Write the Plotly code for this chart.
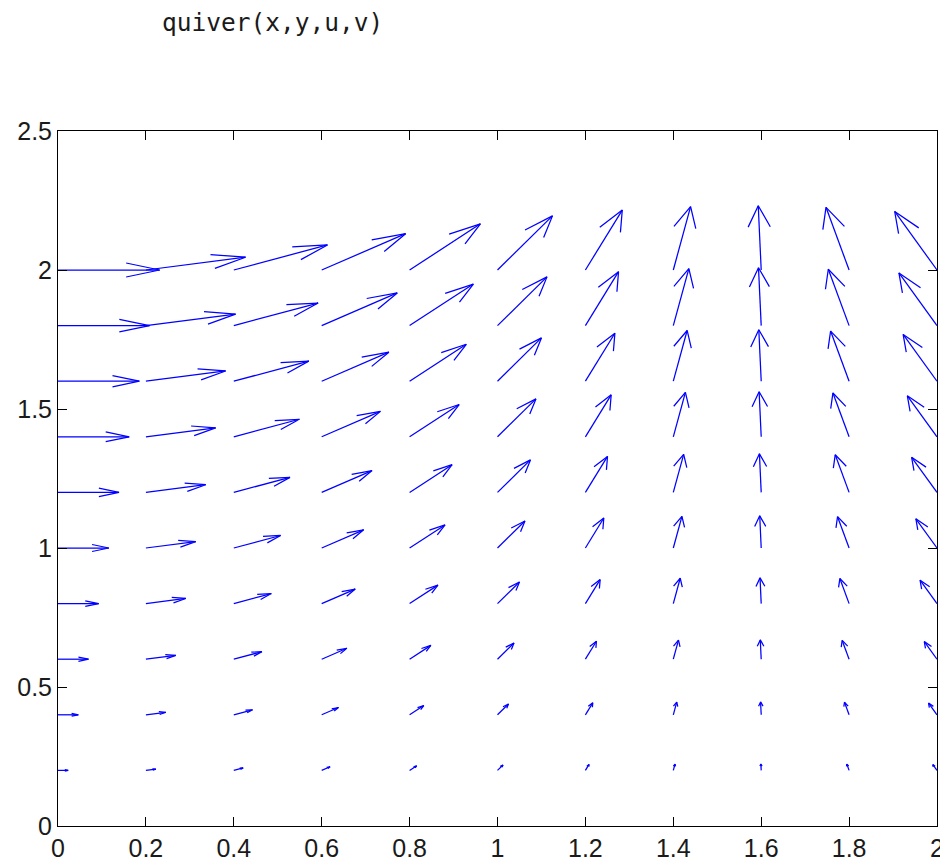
import plotly.graph_objects as go

# Grid positions
x_vals = [0.0, 0.2, 0.4, 0.6, 0.8, 1.0, 1.2, 1.4, 1.6, 1.8, 2.0]
y_vals = [0.2, 0.4, 0.6, 0.8, 1.0, 1.2, 1.4, 1.6, 1.8, 2.0]

# u components: one row per y value, one column per x value
u_rows = [
    [0.200, 0.196, 0.184, 0.165, 0.139, 0.108, 0.072, 0.034, -0.006, -0.045, -0.083],
    [0.400, 0.392, 0.368, 0.330, 0.279, 0.216, 0.145, 0.068, -0.012, -0.091, -0.166],
    [0.600, 0.588, 0.553, 0.495, 0.418, 0.324, 0.217, 0.102, -0.018, -0.136, -0.250],
    [0.800, 0.784, 0.737, 0.660, 0.557, 0.432, 0.290, 0.136, -0.023, -0.182, -0.333],
    [1.000, 0.980, 0.921, 0.825, 0.697, 0.540, 0.362, 0.170, -0.029, -0.227, -0.416],
    [1.200, 1.176, 1.105, 0.990, 0.836, 0.648, 0.435, 0.204, -0.035, -0.273, -0.499],
    [1.400, 1.372, 1.290, 1.155, 0.975, 0.756, 0.507, 0.238, -0.041, -0.318, -0.583],
    [1.600, 1.568, 1.474, 1.321, 1.115, 0.864, 0.580, 0.272, -0.047, -0.364, -0.666],
    [1.800, 1.764, 1.658, 1.486, 1.254, 0.973, 0.652, 0.306, -0.053, -0.409, -0.749],
    [2.000, 1.960, 1.842, 1.651, 1.393, 1.081, 0.725, 0.340, -0.058, -0.454, -0.832],
]

# v components: one row per y value, one column per x value
v_rows = [
    [0.000, 0.040, 0.078, 0.113, 0.143, 0.168, 0.186, 0.197, 0.200, 0.195, 0.182],
    [0.000, 0.079, 0.156, 0.226, 0.287, 0.337, 0.373, 0.394, 0.400, 0.390, 0.364],
    [0.000, 0.119, 0.234, 0.339, 0.430, 0.505, 0.559, 0.591, 0.600, 0.584, 0.546],
    [0.000, 0.159, 0.312, 0.452, 0.574, 0.673, 0.746, 0.788, 0.800, 0.779, 0.727],
    [0.000, 0.199, 0.389, 0.565, 0.717, 0.841, 0.932, 0.985, 1.000, 0.974, 0.909],
    [0.000, 0.238, 0.467, 0.678, 0.861, 1.010, 1.118, 1.183, 1.199, 1.169, 1.091],
    [0.000, 0.278, 0.545, 0.791, 1.004, 1.178, 1.305, 1.380, 1.399, 1.363, 1.273],
    [0.000, 0.318, 0.623, 0.903, 1.148, 1.346, 1.491, 1.577, 1.599, 1.558, 1.455],
    [0.000, 0.358, 0.701, 1.016, 1.291, 1.515, 1.678, 1.774, 1.799, 1.753, 1.637],
    [0.000, 0.397, 0.779, 1.129, 1.435, 1.683, 1.864, 1.971, 1.999, 1.948, 1.819],
]

x_ticks = [0, 0.2, 0.4, 0.6, 0.8, 1, 1.2, 1.4, 1.6, 1.8, 2]
x_tick_labels = ["0", "0.2", "0.4", "0.6", "0.8", "1", "1.2", "1.4", "1.6", "1.8", "2"]
y_ticks = [0, 0.5, 1, 1.5, 2, 2.5]
y_tick_labels = ["0", "0.5", "1", "1.5", "2", "2.5"]

title_text = "quiver(x,y,u,v)"

# Style / scaling parameters (MATLAB-style autoscale and arrowheads)
SCALE = 0.1157
ALPHA = 0.33
BETA = 0.33

sx, sy = [], []
hx, hy = [], []
for i, y0 in enumerate(y_vals):
    for j, x0 in enumerate(x_vals):
        u = u_rows[i][j] * SCALE
        v = v_rows[i][j] * SCALE
        sx += [x0, x0 + u, None]
        sy += [y0, y0 + v, None]
        tx, ty = x0 + u, y0 + v
        hx += [tx - ALPHA * (u + BETA * v), tx, tx - ALPHA * (u - BETA * v), None]
        hy += [ty - ALPHA * (v - BETA * u), ty, ty - ALPHA * (v + BETA * u), None]

fig = go.Figure()
fig.add_trace(go.Scatter(x=sx, y=sy, mode="lines",
                         line=dict(color="#0000ff", width=1.25),
                         hoverinfo="skip", showlegend=False))
fig.add_trace(go.Scatter(x=hx, y=hy, mode="lines",
                         line=dict(color="#0000ff", width=1.25),
                         hoverinfo="skip", showlegend=False))

axis_common = dict(
    showline=True, linecolor="black", linewidth=1, mirror="ticks",
    ticks="inside", ticklen=9, tickcolor="black", tickwidth=1,
    showgrid=False, zeroline=False, automargin=False,
    tickfont=dict(family="Liberation Sans, Arial, sans-serif", size=25, color="#1a1a1a"),
)

# The page body adds an 8px offset at top/left, so the figure is 8px smaller
fig.update_layout(
    width=940, height=853,
    margin=dict(l=50, r=11, t=123, b=35),
    paper_bgcolor="white", plot_bgcolor="white",
    xaxis=dict(range=[0, 2], tickvals=x_ticks, ticktext=x_tick_labels,
               ticklabelstandoff=0, **axis_common),
    yaxis=dict(range=[0, 2.5], tickvals=y_ticks, ticktext=y_tick_labels, **axis_common),
    annotations=[dict(
        text=title_text, xref="paper", yref="paper",
        x=(160 - 58) / 879, y=1 + (131 - 23) / 695,
        xanchor="left", yanchor="middle", showarrow=False,
        font=dict(family="DejaVu Sans Mono, monospace", size=24.5, color="#1a1a1a"),
    )],
)

fig.write_html("out.html")
